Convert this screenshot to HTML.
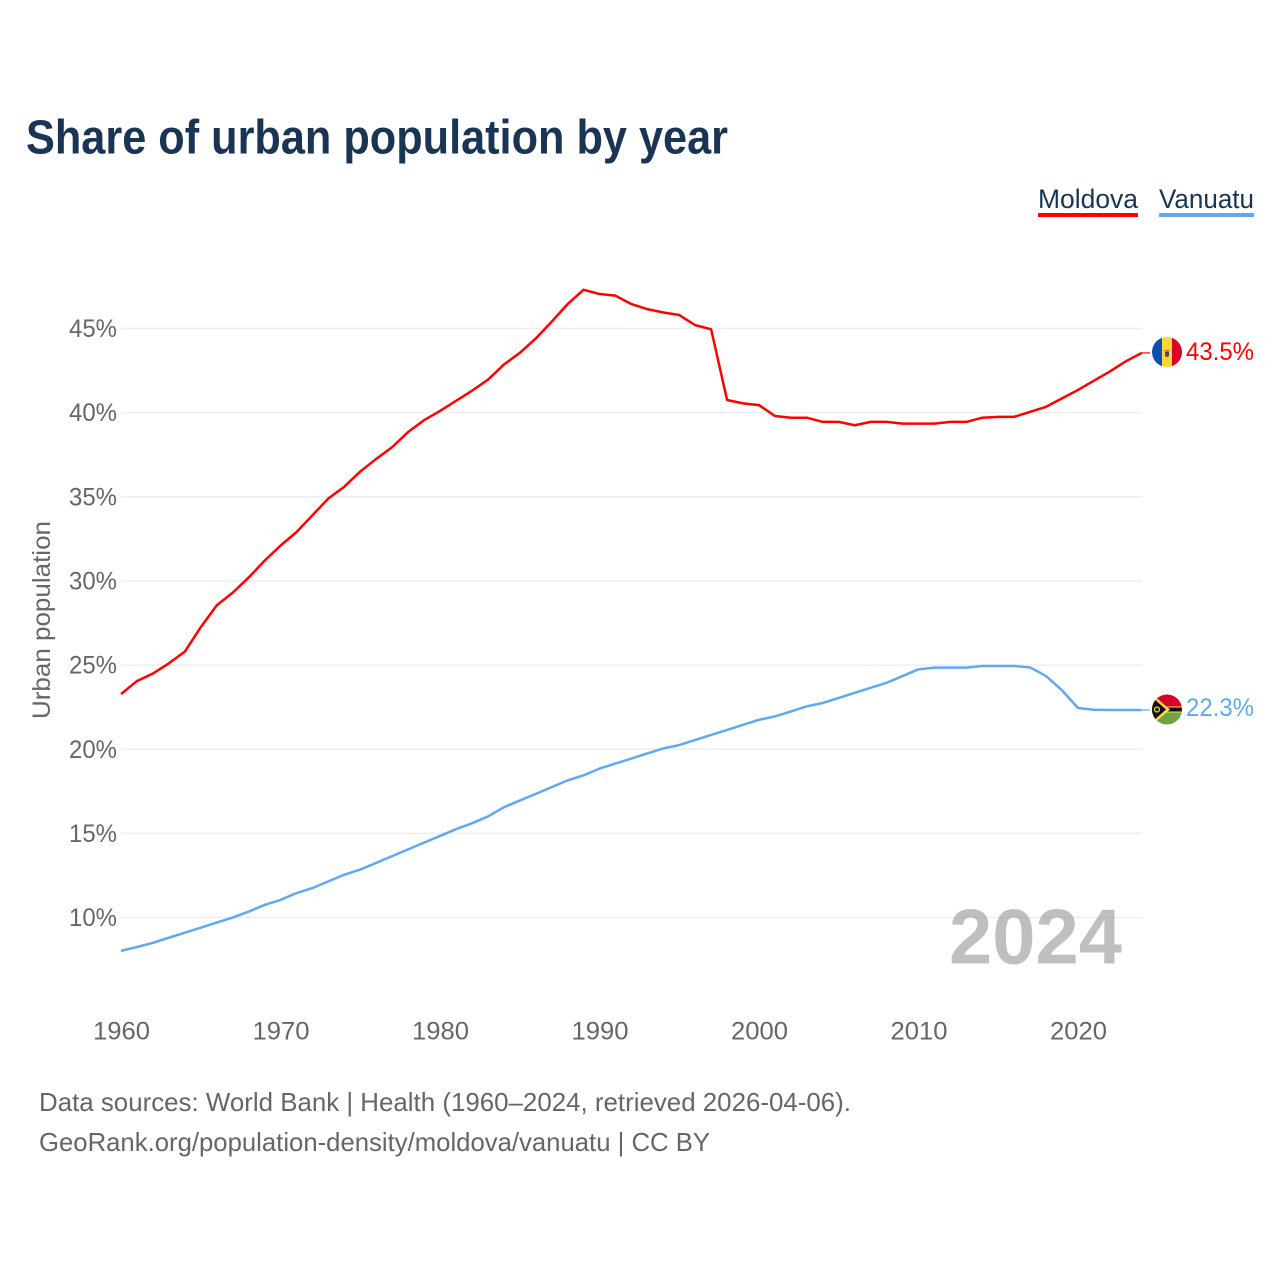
<!DOCTYPE html>
<html>
<head>
<meta charset="utf-8">
<style>
html,body{margin:0;padding:0;background:#fff;}
svg{display:block;font-family:"Liberation Sans",sans-serif;}
</style>
</head>
<body>
<svg id="chart" width="1280" height="1280" viewBox="0 0 1280 1280" xmlns="http://www.w3.org/2000/svg">
<rect width="1280" height="1280" fill="#ffffff"/>
<text x="26" y="153.5" font-size="48" font-weight="700" fill="#1a3453" textLength="702" lengthAdjust="spacingAndGlyphs">Share of urban population by year</text>
<text x="1038" y="208" font-size="27" fill="#1a3453" textLength="100" lengthAdjust="spacingAndGlyphs">Moldova</text>
<rect x="1038" y="213" width="100" height="4" fill="#ff0000"/>
<text x="1159" y="208" font-size="27" fill="#1a3453" textLength="95" lengthAdjust="spacingAndGlyphs">Vanuatu</text>
<rect x="1159" y="213" width="95" height="4" fill="#62a8ec"/>
<g id="grid"></g>
<g id="yticks"></g>
<g id="xticks"></g>
<text transform="translate(50,719) rotate(-90)" font-size="25" fill="#666666" textLength="198" lengthAdjust="spacingAndGlyphs">Urban population</text>
<text x="949" y="963.5" font-size="78" font-weight="700" fill="#808080" fill-opacity="0.5" textLength="173" lengthAdjust="spacingAndGlyphs">2024</text>
<g id="series"></g>
<g>
<clipPath id="clip-md"><circle cx="1167" cy="352" r="15"/></clipPath>
<g clip-path="url(#clip-md)">
<rect x="1152" y="337" width="10" height="30" fill="#0a50b0"/>
<rect x="1162" y="337" width="10" height="30" fill="#fdd835"/>
<rect x="1172" y="337" width="10" height="30" fill="#d80027"/>
<polygon points="1163.5,350 1170.5,350 1167,353" fill="#e0702a"/>
<rect x="1165" y="352" width="4" height="4" fill="#2a4d9a"/>
<rect x="1165.5" y="355" width="3" height="2" fill="#c03030"/>
</g>
</g>
<g>
<clipPath id="clip-vu"><circle cx="1167" cy="709.5" r="15"/></clipPath>
<g clip-path="url(#clip-vu)">
<rect x="1152" y="694.5" width="30" height="15" fill="#d80027"/>
<rect x="1152" y="709.5" width="30" height="15" fill="#6da544"/>
<rect x="1152" y="706.5" width="30" height="6" fill="#ffda44"/>
<rect x="1152" y="707.5" width="30" height="4" fill="#111111"/>
<polygon points="1152,694 1170,709.5 1152,725" fill="#ffda44"/>
<polygon points="1152,697 1166,709.5 1152,722" fill="#111111"/>
<circle cx="1157" cy="709.5" r="2.5" fill="none" stroke="#ffda44" stroke-width="1.2"/>
</g>
</g>
<text x="1186" y="360" font-size="25" fill="#ff0000" textLength="68" lengthAdjust="spacingAndGlyphs">43.5%</text>
<text x="1186" y="716" font-size="25" fill="#62a8ec" textLength="68" lengthAdjust="spacingAndGlyphs">22.3%</text>
<text x="39" y="1111" font-size="26" fill="#666666" textLength="812" lengthAdjust="spacingAndGlyphs">Data sources: World Bank | Health (1960–2024, retrieved 2026-04-06).</text>
<text x="39" y="1151" font-size="26" fill="#666666" textLength="671" lengthAdjust="spacingAndGlyphs">GeoRank.org/population-density/moldova/vanuatu | CC BY</text>
<script>
var startYear = 1960;
var moldovaValues = [23.28,24.05,24.5,25.1,25.8,27.25,28.55,29.3,30.2,31.2,32.1,32.9,33.9,34.9,35.6,36.5,37.25,37.95,38.85,39.55,40.1,40.7,41.3,41.95,42.85,43.55,44.4,45.4,46.45,47.3,47.05,46.95,46.45,46.15,45.95,45.8,45.2,44.95,40.75,40.55,40.45,39.8,39.7,39.7,39.45,39.45,39.25,39.45,39.45,39.35,39.35,39.35,39.45,39.45,39.7,39.75,39.75,40.05,40.35,40.85,41.35,41.9,42.45,43.05,43.55];
var vanuatuValues = [8.02,8.25,8.5,8.8,9.1,9.4,9.7,10.0,10.35,10.75,11.05,11.45,11.75,12.15,12.55,12.85,13.25,13.65,14.05,14.45,14.85,15.25,15.6,16.0,16.55,16.95,17.35,17.75,18.15,18.45,18.85,19.15,19.45,19.75,20.05,20.25,20.55,20.85,21.15,21.45,21.75,21.95,22.25,22.55,22.75,23.05,23.35,23.65,23.95,24.35,24.75,24.85,24.85,24.85,24.95,24.95,24.95,24.86,24.35,23.5,22.45,22.35,22.33,22.33,22.33];
var yTickValues = [10,15,20,25,30,35,40,45];
var xTickValues = [1960,1970,1980,1990,2000,2010,2020];
var NS = 'http://www.w3.org/2000/svg';
function xScale(year){return 121 + (year - 1960) * 15.95;}
function yScale(v){return 328.5 + (45 - v) * 16.83;}
var grid = document.getElementById('grid');
var yticks = document.getElementById('yticks');
var xticks = document.getElementById('xticks');
var series = document.getElementById('series');
yTickValues.forEach(function(v){
  var line = document.createElementNS(NS,'line');
  
  
  line.setAttribute('x1', 121);
  line.setAttribute('x2', 1142);
  line.setAttribute('y1', yScale(v));
  line.setAttribute('y2', yScale(v));
  line.setAttribute('stroke', '#eeeeee');
  line.setAttribute('stroke-width', '1.5');
  grid.appendChild(line);
  var t = document.createElementNS(NS,'text');
  
  
  t.setAttribute('x', 117);
  t.setAttribute('y', yScale(v) + 8.5);
  t.setAttribute('text-anchor', 'end');
  t.setAttribute('font-size', '25');
  t.setAttribute('fill', '#666666');
  t.setAttribute('textLength', '48');
  t.setAttribute('lengthAdjust', 'spacingAndGlyphs');
  t.textContent = v + '%';
  yticks.appendChild(t);
});
xTickValues.forEach(function(y){
  var t = document.createElementNS(NS,'text');
  
  
  t.setAttribute('x', xScale(y) + 0.5);
  t.setAttribute('y', 1039.5);
  t.setAttribute('text-anchor', 'middle');
  t.setAttribute('font-size', '25');
  t.setAttribute('fill', '#666666');
  t.setAttribute('textLength', '57');
  t.setAttribute('lengthAdjust', 'spacingAndGlyphs');
  t.textContent = y;
  xticks.appendChild(t);
});
function drawSeries(values, color, name){
  var pts = values.map(function(v,i){return xScale(startYear + i).toFixed(2) + ',' + yScale(v).toFixed(2);});
  var p = document.createElementNS(NS,'polyline');
  
  
  p.setAttribute('points', pts.join(' '));
  p.setAttribute('fill', 'none');
  p.setAttribute('stroke', color);
  p.setAttribute('stroke-width', '2.5');
  p.setAttribute('stroke-linejoin', 'round');
  series.appendChild(p);
  var last = values[values.length - 1];
  var tail = document.createElementNS(NS,'line');
  
  
  tail.setAttribute('x1', xScale(startYear + values.length - 1));
  tail.setAttribute('x2', 1150);
  tail.setAttribute('y1', yScale(last));
  tail.setAttribute('y2', yScale(last));
  tail.setAttribute('stroke', color);
  tail.setAttribute('stroke-width', '1.5');
  tail.setAttribute('stroke-opacity', '0.8');
  series.appendChild(tail);
}
drawSeries(vanuatuValues, '#62a8ec', 'line-vanuatu');
drawSeries(moldovaValues, '#ff0000', 'line-moldova');
</script>
</svg>
</body>
</html>
